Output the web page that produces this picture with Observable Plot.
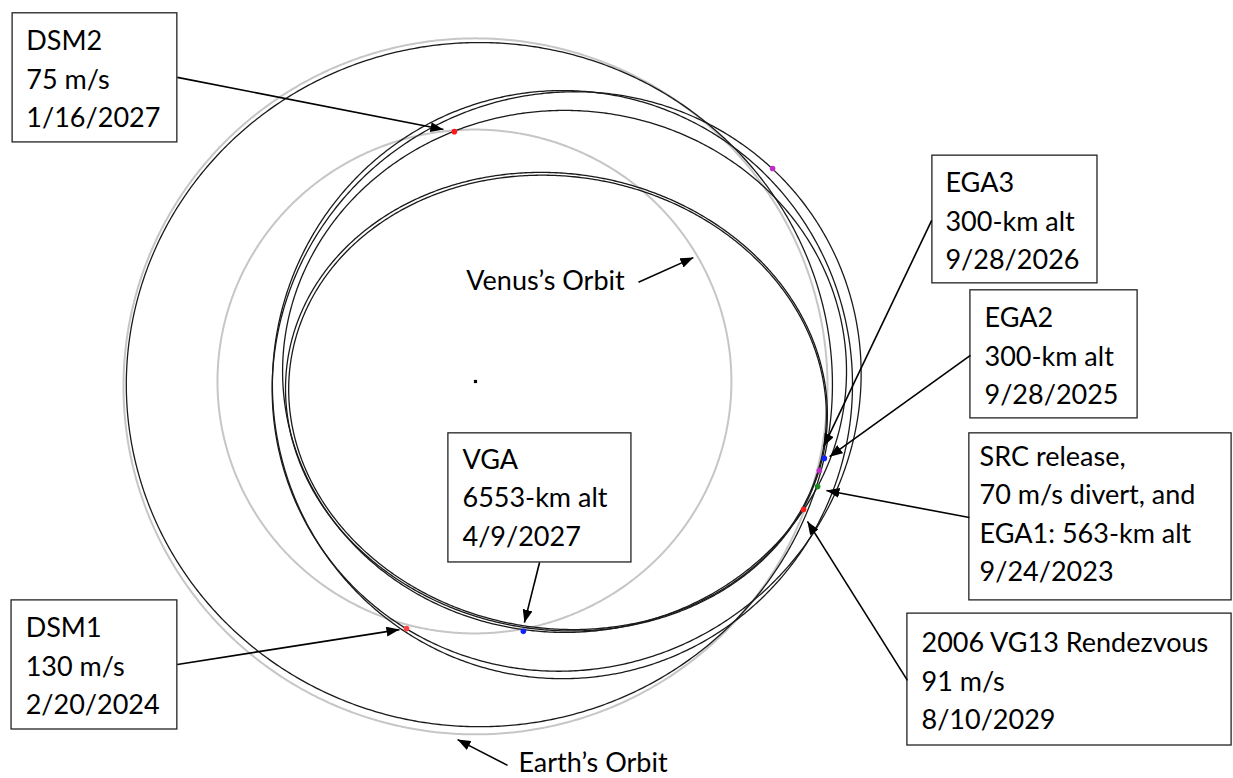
<!DOCTYPE html>
<html><head><meta charset="utf-8">
<script src="https://cdn.jsdelivr.net/npm/d3@7"></script>
<script src="https://cdn.jsdelivr.net/npm/@observablehq/plot@0.6"></script>
<style>
html,body{margin:0;padding:0;background:#fff;}
#chart{width:1233px;height:778px;overflow:hidden;}
</style></head><body><div id="chart"></div>
<script>
// ---- Orbits (heliocentric plot frame, AU; ellipse centre, semi-axes, tilt in degrees) ----
const orbitNames = ["Earth", "Venus", "A", "B1", "B2", "C", "D1", "D2"];
const orbitKind  = ["planet", "planet", "craft", "craft", "craft", "craft", "craft", "craft"];
const orbitCx    = [0.000, -0.003, 0.011, 0.247, 0.259, 0.253, 0.230, 0.233];
const orbitCy    = [-0.014, 0.000, -0.009, -0.009, 0.000, 0.029, -0.058, -0.060];
const orbitA     = [1.000, 0.730, 1.003, 0.824, 0.846, 0.801, 0.773, 0.767];
const orbitB     = [1.000, 0.724, 0.983, 0.845, 0.823, 0.750, 0.655, 0.649];
const orbitTilt  = [0, 0, 0, 0, 40, 0, -10, -10];

// ---- Event markers (AU) ----
const eventX     = [-0.060, 0.844, 0.991, 0.977, 0.972, 0.932, -0.196, 0.136];
const eventY     = [0.718, 0.612, -0.221, -0.256, -0.302, -0.368, -0.710, -0.718];
const eventColor = ["#ff1a1a", "#c02cc8", "#1020ff", "#c02cc8", "#1a8a1a", "#ff1a1a", "#ff4040", "#1020ff"];

// ---- Annotation boxes (AU) ----
const boxX1 = [-1.315, 1.298, 1.406, 1.403, 1.227, -0.077, -1.318];
const boxX2 = [-0.847, 1.767, 1.881, 2.148, 2.148, 0.443, -0.847];
const boxY1 = [1.058, 0.649, 0.262, -0.149, -0.667, -0.149, -0.629];
const boxY2 = [0.687, 0.282, -0.106, -0.629, -1.046, -0.520, -1.000];
const boxTextX = [-1.276, 1.335, 1.446, 1.432, 1.267, -0.037, -1.278];
const boxTextY = [1.030, 0.622, 0.234, -0.163, -0.700, -0.172, -0.657];
const boxText = [
  "DSM2\n75 m/s\n1/16/2027",
  "EGA3\n300-km alt\n9/28/2026",
  "EGA2\n300-km alt\n9/28/2025",
  "SRC release,\n70 m/s divert, and\nEGA1: 563-km alt\n9/24/2023",
  "2006 VG13 Rendezvous\n91 m/s\n8/10/2029",
  "VGA\n6553-km alt\n4/9/2027",
  "DSM1\n130 m/s\n2/20/2024"
];

// ---- Arrows (AU): from label to target ----
const arrowX1 = [-0.847, 1.296, 1.406, 1.403, 1.227, 0.182, -0.847, 0.463, 0.091];
const arrowY1 = [0.874, 0.463, 0.075, -0.391, -0.859, -0.520, -0.813, 0.285, -1.103];
const arrowX2 = [-0.091, 0.989, 1.006, 0.997, 0.943, 0.139, -0.216, 0.619, -0.051];
const arrowY2 = [0.724, -0.187, -0.216, -0.313, -0.402, -0.693, -0.713, 0.356, -1.029];

// ---- Free labels ----
const freeText = ["Venus\u2019s Orbit", "Earth\u2019s Orbit"];
const freeX = [-0.026, 0.122];
const freeY = [0.262, -1.121];

// ---- build tables ----
const orbitPoints = [];
orbitNames.forEach((name, i) => {
  const rot = orbitTilt[i] * Math.PI / 180;
  for (let k = 0; k <= 720; k++) {
    const t = k * Math.PI / 360;
    const u = orbitA[i] * Math.cos(t), v = orbitB[i] * Math.sin(t);
    orbitPoints.push({
      orbit: name, kind: orbitKind[i],
      x: orbitCx[i] + u * Math.cos(rot) - v * Math.sin(rot),
      y: orbitCy[i] + u * Math.sin(rot) + v * Math.cos(rot)
    });
  }
});
const events = eventX.map((x, i) => ({x, y: eventY[i], c: eventColor[i]}));
const boxes = boxX1.map((x1, i) => ({x1, x2: boxX2[i], y1: boxY1[i], y2: boxY2[i], tx: boxTextX[i], ty: boxTextY[i], text: boxText[i]}));
const arrows = arrowX1.map((x1, i) => ({x1, y1: arrowY1[i], x2: arrowX2[i], y2: arrowY2[i]}));
const labels = freeText.map((text, i) => ({text, x: freeX[i], y: freeY[i]}));

const planets = orbitPoints.filter(d => d.kind === "planet");
const craft = orbitPoints.filter(d => d.kind === "craft");

const chart = Plot.plot({
  width: 1233,
  height: 778,
  margin: 0,
  style: {fontFamily: "Lato, 'Open Sans', sans-serif", background: "#fff"},
  x: {domain: [-1.3494, 2.1534], axis: null},
  y: {domain: [-1.1408, 1.0948], axis: null},
  marks: [
    Plot.line(planets, {x: "x", y: "y", z: "orbit", stroke: "#c6c6c6", strokeWidth: 2}),
    Plot.line(craft, {x: "x", y: "y", z: "orbit", stroke: "#1a1a1a", strokeWidth: 1.3}),
    Plot.dot([{x: 0, y: 0}], {x: "x", y: "y", r: 1.8, fill: "#000", symbol: "square"}),
    Plot.dot(events, {x: "x", y: "y", r: 2.8, fill: "c"}),
    Plot.rect(boxes, {x1: "x1", x2: "x2", y1: "y1", y2: "y2", fill: "#fff", stroke: "#222", strokeWidth: 1.3}),
    Plot.text(boxes, {x: "tx", y: "ty", text: "text", textAnchor: "start", lineAnchor: "top", fontSize: 27, lineHeight: 1.426, fill: "#000"}),
    Plot.text(labels, {x: "x", y: "y", text: "text", textAnchor: "start", lineAnchor: "bottom", fontSize: 27, fill: "#000"}),
    Plot.link(arrows, {x1: "x1", y1: "y1", x2: "x2", y2: "y2", stroke: "#000", strokeWidth: 1.6, markerEnd: "arrow"})
  ]
});

chart.querySelectorAll("marker").forEach(m => {
  m.setAttribute("viewBox", "-13 -5 13 10");
  m.setAttribute("markerWidth", 13);
  m.setAttribute("markerHeight", 10);
  m.setAttribute("markerUnits", "userSpaceOnUse");
  m.setAttribute("refX", 0);
  m.setAttribute("refY", 0);
  m.setAttribute("fill", "#000");
  m.setAttribute("stroke", "none");
  const p = m.querySelector("path");
  if (p) p.setAttribute("d", "M-13,-5L0,0L-13,5Z");
});

document.getElementById("chart").appendChild(chart);
</script>
</body></html>
